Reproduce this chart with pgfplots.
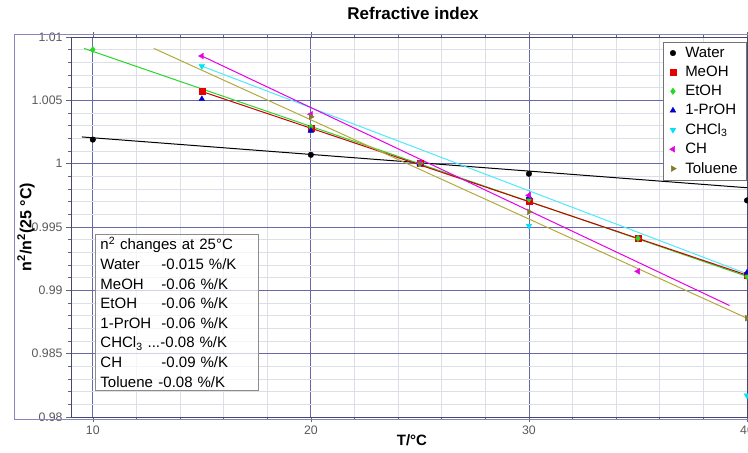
\documentclass[border=0pt]{standalone}
\usepackage{fontspec}
\setmainfont{Liberation Sans}
\usepackage{pgfplots}
\pgfplotsset{compat=1.18}
\definecolor{majgrid}{RGB}{105,105,170}
\definecolor{mingrid}{RGB}{222,222,232}
\definecolor{framec}{RGB}{70,70,115}
\definecolor{cyanc}{RGB}{0,225,250}
\definecolor{greenc}{RGB}{40,215,40}
\definecolor{olivec}{RGB}{180,170,60}
\definecolor{olivem}{RGB}{130,122,40}
\definecolor{magc}{RGB}{230,0,230}
\definecolor{bluec}{RGB}{0,0,210}
\definecolor{redc}{RGB}{230,0,0}
\begin{document}
\begin{tikzpicture}
\begin{axis}[
  scale only axis, width=676pt, height=380pt,
  xmin=9, xmax=40, ymin=0.98, ymax=1.01,
  xtick={10,20,30,40}, xticklabels={10,20,30,40},
  ytick={0.98,0.985,0.99,0.995,1,1.005,1.01},
  yticklabels={0.98,0.985,0.99,0.995,1,1.005,1.01},
  minor x tick num=4, minor y tick num=4,
  tick align=outside,
  major tick length=5pt, minor tick length=3pt,
  grid=both,
  major grid style={majgrid, line width=0.8pt},
  minor grid style={mingrid, line width=0.6pt},
  axis line style={framec, line width=0.8pt},
  every tick/.style={black!60, line width=0.6pt},
  tick label style={font=\fontsize{12.3}{14}\selectfont, text=black!65},
  /pgf/number format/assume math mode=true,
  title={\textbf{Refractive index}},
  title style={font=\fontsize{17}{20}\selectfont, at={(axis description cs:0.506,1.046)}, anchor=center},
  xlabel={\textbf{T/°C}},
  xlabel style={font=\fontsize{15}{18}\selectfont, at={(axis description cs:0.5044,-0.0605)}, anchor=center},
  ylabel={\textbf{n\textsuperscript{2}/n\textsuperscript{2}(25 °C)}},
  ylabel style={font=\fontsize{16}{19}\selectfont, at={(axis description cs:-0.0665,0.5)}, anchor=center},
  legend style={at={(axis description cs:0.9985,0.987)}, anchor=north east, draw=black!55, fill=white,
    font=\fontsize{15}{18}\selectfont, inner xsep=6pt, inner ysep=3pt, row sep=3.2pt,
    /tikz/every odd column/.append style={column sep=7pt}},
  legend cell align=left,
  clip=false,
]
% outer panel frame
\draw[majgrid!80, line width=0.7pt] (rel axis cs:-0.0843,-0.006) rectangle (rel axis cs:1.01,1.006);
\coordinate (bbsw) at (rel axis cs:-0.10503,-0.0921);
\coordinate (bbne) at (rel axis cs:1.00148,1.0974);

% fit lines
\addplot[forget plot, black, line width=1pt] coordinates {(9.5,1.00211) (40,0.9981)};
\addplot[forget plot, greenc, line width=1pt] coordinates {(9.6,1.0091) (40,0.9911)};
\addplot[forget plot, red!80!black, line width=1pt] coordinates {(15,1.0057) (40,0.9912)};
\addplot[forget plot, cyanc!70, line width=1pt] coordinates {(15,1.0077) (40,0.9913)};
\addplot[forget plot, magc, line width=1pt] coordinates {(15,1.0085) (39.2,0.9888)};
\addplot[forget plot, olivec, line width=1pt] coordinates {(12.8,1.0091) (40,0.9878)};

% data points
\addplot[only marks, mark=*, mark size=2.8pt, black] coordinates {(10,1.0019) (20,1.0007) (25,1.0) (30,0.9992) (40,0.9971)};
\addlegendentry{Water}
\addplot[only marks, mark=square*, mark size=3pt, redc] coordinates {(15,1.0057) (20,1.0028) (25,1.0) (30,0.9970) (35,0.9941) (40,0.9912)};
\addlegendentry{MeOH}
\addplot[only marks, mark=diamond*, mark size=3.2pt, greenc] coordinates {(10,1.0090) (20,1.0029) (25,1.0) (30,0.9972) (35,0.9941) (40,0.9911)};
\addlegendentry{EtOH}
\addplot[only marks, mark=triangle*, mark size=3.3pt, bluec] coordinates {(15,1.0051) (20,1.0026) (25,1.0) (30,0.9974) (40,0.9914)};
\addlegendentry{1-PrOH}
\addplot[only marks, mark=triangle*, mark size=3.3pt, cyanc, mark options={rotate=180}] coordinates {(15,1.0077) (25,1.0) (30,0.9951) (40,0.9817)};
\addlegendentry{CHCl\textsubscript{3}}
\addplot[only marks, mark=triangle*, mark size=3.3pt, magc, mark options={rotate=90}] coordinates {(15,1.0085) (20,1.0039) (25,1.0001) (30,0.9975) (35,0.9915)};
\addlegendentry{CH}
\addplot[only marks, mark=triangle*, mark size=3.3pt, olivem, mark options={rotate=-90}] coordinates {(20,1.0037) (25,1.0) (30,0.9962) (40,0.9878)};
\addlegendentry{Toluene}

% info box
\node[draw=black!45, fill=white, fill opacity=0.7, text opacity=1, anchor=north west,
      inner xsep=5.5pt, inner ysep=3pt, align=left, text width=152pt,
      font=\fontsize{15}{19.6}\selectfont] at (axis cs:10.09,0.99443) {%
n\textsuperscript{2} changes at 25°C\\
\makebox[61pt][l]{Water}-0.015 \%/K\\
\makebox[61pt][l]{MeOH}-0.06 \%/K\\
\makebox[61pt][l]{EtOH}-0.06 \%/K\\
\makebox[61pt][l]{1-PrOH}-0.06 \%/K\\
\makebox[60pt][l]{CHCl\textsubscript{3} ...}-0.08 \%/K\\
\makebox[61pt][l]{CH}-0.09 \%/K\\
\makebox[58pt][l]{Toluene}-0.08 \%/K};
\end{axis}
\pgfresetboundingbox
\useasboundingbox (bbsw) rectangle (bbne);
\end{tikzpicture}
\end{document}
